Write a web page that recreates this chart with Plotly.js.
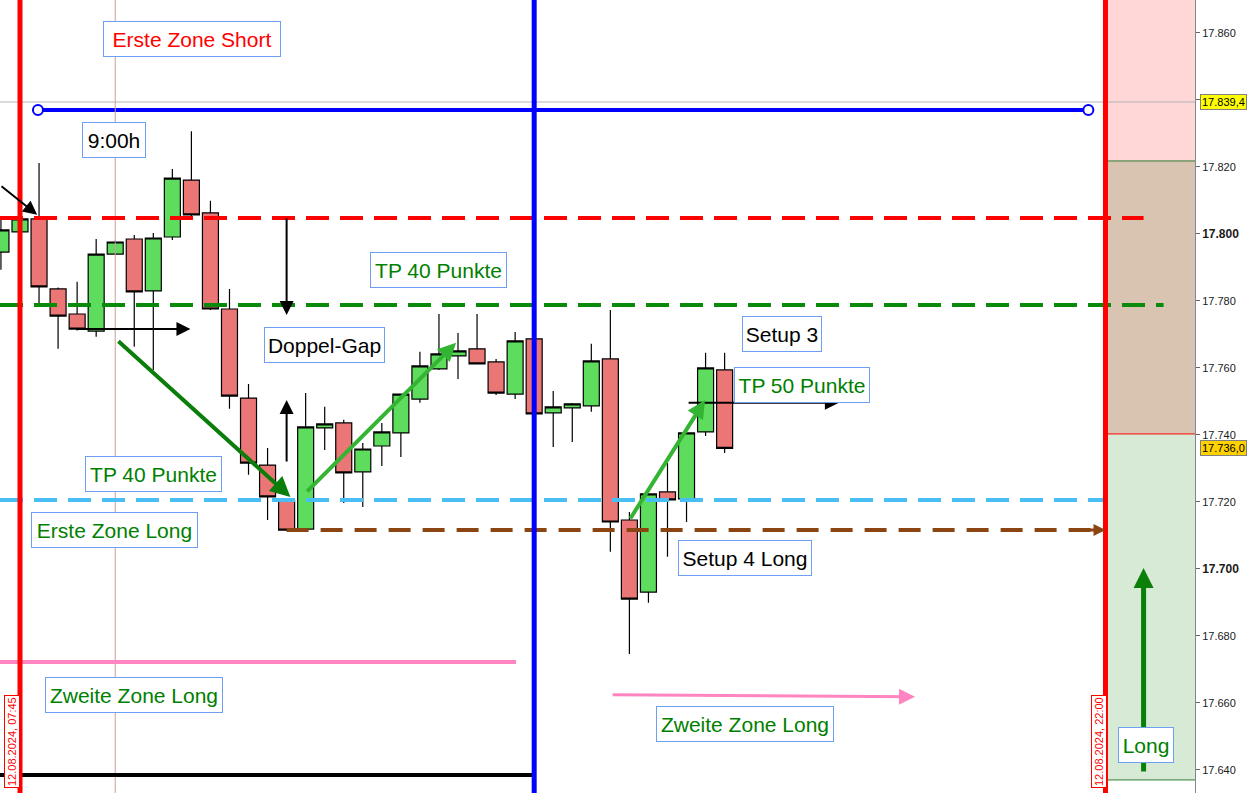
<!DOCTYPE html>
<html><head><meta charset="utf-8">
<script src="https://cdn.plot.ly/plotly-3.0.1.min.js"></script>
<style>html,body{margin:0;padding:0;background:#fff;overflow:hidden}#chart{width:1247px;height:793px}</style>
</head><body><div id="chart"></div>
<script>
// ---- data ----
const times = ['07:30','07:45','08:00','08:15','08:30','08:45','09:00','09:15','09:30','09:45',
  '10:00','10:15','10:30','10:45','11:00','11:15','11:30','11:45','12:00','12:15',
  '12:30','12:45','13:00','13:15','13:30','13:45','14:00','14:15','14:30','14:45',
  '15:00','15:15','15:30','15:45','16:00','16:15','16:30','16:45','17:00'];
const openV  = [17794.6,17800.6,17804.5,17783.6,17776.1,17771.0,17794.0,17798.5,17783.0,17799.1,
  17816.1,17806.3,17777.6,17751.0,17731.0,17720.3,17711.9,17742.1,17743.6,17729.0,
  17736.7,17740.6,17750.7,17759.7,17763.6,17765.7,17761.8,17752.2,17768.7,17746.6,
  17748.1,17748.7,17762.7,17714.6,17693.1,17723.0,17720.9,17740.9,17759.4];
const highV  = [17804.8,17805.0,17821.2,17784.0,17785.7,17798.5,17798.0,17799.7,17800.3,17819.4,
  17830.7,17809.9,17783.6,17755.2,17736.1,17720.6,17752.5,17748.4,17744.5,17737.6,
  17743.6,17752.4,17764.8,17776.1,17770.4,17776.1,17762.7,17770.7,17769.0,17753.1,
  17749.5,17767.2,17777.3,17717.0,17722.6,17731.6,17740.8,17764.5,17764.5];
const lowV   = [17789.3,17800.0,17778.8,17765.7,17771.2,17769.3,17793.8,17766.3,17759.4,17798.2,
  17805.4,17777.3,17747.8,17728.1,17714.6,17711.3,17711.6,17735.5,17719.7,17718.5,
  17730.7,17733.4,17749.6,17759.4,17756.7,17761.0,17751.9,17750.7,17746.0,17736.4,
  17737.9,17746.9,17705.1,17674.6,17689.9,17703.6,17714.0,17739.7,17734.6];
const closeV = [17801.2,17804.5,17784.2,17775.5,17771.6,17794.0,17797.6,17782.7,17798.8,17816.7,
  17805.7,17777.6,17751.6,17731.6,17721.5,17711.6,17742.4,17743.3,17728.7,17735.8,
  17740.9,17752.2,17760.6,17764.2,17765.1,17761.2,17752.5,17768.1,17746.3,17748.4,
  17749.3,17762.1,17714.0,17691.0,17722.4,17720.6,17740.6,17760.0,17736.0];

const yTicks = [17640,17660,17680,17700,17720,17740,17760,17780,17800,17820,17840,17860];
const boldTicks = [17700,17800];
const hiddenTicks = [17840];

// price levels
const levelShortLine = 17804.8;   // red dashed
const levelTP40Top  = 17778.8;    // green dashed
const levelLong1    = 17720.6;    // light blue dashed
const levelGap      = 17711.6;    // brown dashed
const levelLong2    = 17672.2;    // pink solid
const levelBottom   = 17638.5;    // black solid
const levelBlue     = 17837.0;    // blue line
const priceHigh     = 17839.4;    // crosshair tag
const priceLast     = 17736.0;    // last price tag
const zoneShort = [17821.8, 17875];
const zoneMid   = [17740.3, 17821.8];
const zoneLong  = [17637.0, 17740.3];

// ---- helpers ----
const BASE = Date.UTC(2024,7,12,7,45);
function X(i){ return new Date(BASE + i*15*60000).toISOString().replace('T',' ').slice(0,19); }
const PW = 1195, PH = 793;
function px(v){ return v/PW; }
function py(v){ return 1 - v/PH; }

const xs = times.map(t => '2024-08-12 ' + t + ':00');

const traces = [
  {type:'candlestick', x:xs, open:openV, high:highV, low:lowV, close:closeV,
   increasing:{line:{color:'#000',width:1.2}, fillcolor:'#5edc5e'},
   decreasing:{line:{color:'#000',width:1.2}, fillcolor:'#ea7676'},
   whiskerwidth:0, hoverinfo:'skip'},
  {type:'scatter', mode:'lines+markers', x:[X(0.944), X(56.1)], y:[levelBlue, levelBlue],
   line:{color:'#0000ff', width:4},
   marker:{symbol:'circle', size:10, color:'#fff', line:{color:'#0000ff', width:2}},
   hoverinfo:'skip'}
];

function hline(y, i0, i1, color, width, dash){
  return {type:'line', xref:'x', yref:'y', x0:X(i0), x1:X(i1), y0:y, y1:y,
          line:{color, width, dash: dash || 'solid'}};
}
function vline(i, color, width){
  return {type:'line', xref:'x', yref:'paper', x0:X(i), x1:X(i), y0:0, y1:1, line:{color, width}};
}
const XL = -1.05, XR = 61.7;
const shapes = [
  {type:'rect', xref:'x', yref:'y', x0:X(57), x1:X(XR), y0:zoneShort[0], y1:zoneShort[1], fillcolor:'#ffd7d7', line:{width:0}, layer:'below'},
  {type:'rect', xref:'x', yref:'y', x0:X(57), x1:X(XR), y0:zoneMid[0], y1:zoneMid[1], fillcolor:'#d9c4b2', line:{width:0}, layer:'below'},
  {type:'rect', xref:'x', yref:'y', x0:X(57), x1:X(XR), y0:zoneLong[0], y1:zoneLong[1], fillcolor:'#d6ead6', line:{width:0}, layer:'below'},
  hline(zoneShort[0], 57, XR, '#2e7d32', 1),
  hline(zoneMid[0], 57, XR, '#ff0000', 1),
  hline(zoneLong[0], 57, XR, '#2e7d32', 1),
  {type:'line', xref:'x', yref:'y', x0:X(57.1), x1:X(57.1), y0:zoneLong[0], y1:zoneLong[1], line:{color:'#2e7d32', width:1}},
  hline(priceHigh, XL, XR, '#b4b4b4', 1),
  vline(5, '#d09a9a', 1),
  hline(levelShortLine, XL, 59.0, '#ff0000', 4, '23px,11px'),
  hline(levelTP40Top, XL, 60.05, '#0a8a0a', 4, '23px,11px'),
  hline(levelLong1, XL, 57.0, '#48bef5', 4, '23px,11px'),
  hline(levelGap, 14.0, 56.4, '#8b4513', 4, '22px,12px'),
  hline(levelLong2, XL, 26.05, '#ff85c2', 4),
  hline(levelBottom, XL, 27.0, '#000000', 4),
  vline(0, '#ff0000', 5),
  vline(57, '#ff0000', 5),
  vline(27, '#0000ff', 5)
];

function arrow(i0, v0, i1, v1, color, width, size, head){
  return {xref:'x', yref:'y', axref:'x', ayref:'y', x:X(i1), y:v1, ax:X(i0), ay:v0,
          text:'', showarrow:true, arrowhead: head || 2, arrowsize:size, arrowwidth:width,
          arrowcolor:color, standoff:0, startstandoff:0};
}
function box(text, cx, cy, w, color){
  return {xref:'paper', yref:'paper', x:px(cx), y:py(cy), xanchor:'center', yanchor:'middle',
          text, showarrow:false, font:{size:21, color, family:'Liberation Sans, Arial, sans-serif'},
          bgcolor:'#ffffff', bordercolor:'#6f9ff5', borderwidth:1, borderpad:3,
          width:w-8, height:28};
}
function dateTag(text, cx){
  return {xref:'paper', yref:'paper', x:px(cx), y:py(742), xanchor:'center', yanchor:'middle',
          text, textangle:-90, showarrow:false, font:{size:11, color:'#ff0000'},
          bgcolor:'#ffffff', bordercolor:'#ff0000', borderwidth:1, borderpad:1};
}
function priceTag(text, y, bg){
  return {xref:'paper', yref:'y', x:1.004, y, xanchor:'left', yanchor:'middle',
          text, showarrow:false, font:{size:11, color:'#000'},
          bgcolor:bg, bordercolor:'#808080', borderwidth:1, borderpad:1};
}
const G = '#008000';
const annotations = [
  arrow(-1.05, 17814.6, 0.9, 17805.7, '#000', 2, 1.4),
  arrow(2.9, 17771.6, 8.95, 17771.6, '#000', 2, 1.4),
  arrow(14.0, 17805.1, 14.0, 17775.8, '#000', 2, 1.4),
  arrow(14.0, 17731.6, 14.0, 17750.4, '#000', 2, 1.4),
  arrow(35.03, 17749.6, 43.0, 17749.6, '#000', 2, 1.4),
  arrow(5.09, 17768.4, 14.2, 17721.5, '#0b7d0b', 4, 1.0),
  arrow(15.0, 17722.7, 22.9, 17767.5, '#33b533', 4, 0.9),
  arrow(32.0, 17714.6, 35.97, 17750.4, '#33b533', 4, 0.9),
  arrow(59.0, 17639.1, 59.0, 17700.3, '#0a800a', 5, 0.8),
  arrow(56.0, levelGap, 57.0, levelGap, '#8b4513', 3, 0.8),
  arrow(31.04, 17662.4, 47.0, 17661.8, '#ff85c2', 3, 1.07),
  box('Erste Zone Short', 192, 39.5, 178, '#ff0000'),
  box('9:00h', 114, 140, 64, '#000'),
  box('TP 40 Punkte', 438.5, 270, 137, G),
  box('Doppel-Gap', 324.5, 345.5, 121, '#000'),
  box('Setup 3', 782, 334, 80, '#000'),
  box('TP 50 Punkte', 802, 384.5, 136, G),
  box('TP 40 Punkte', 153.5, 474, 137, G),
  box('Erste Zone Long', 114.5, 530, 167, G),
  box('Setup 4 Long', 745, 557.5, 134, '#000'),
  box('Zweite Zone Long', 134, 694.5, 178, G),
  box('Zweite Zone Long', 745, 723.5, 178, G),
  box('Long', 1146, 744.5, 56, G),
  dateTag('12.08.2024, 07:45', 12),
  dateTag('12.08.2024, 22:00', 1099),
  priceTag('17.839,4', priceHigh, '#ffff00'),
  priceTag('17.736,0', priceLast, '#ffd200')
];

const tickText = yTicks.map(v => {
  if (hiddenTicks.includes(v)) return '';
  const s = (v/1000).toFixed(3);
  return boldTicks.includes(v) ? '<b><span style="font-size:12px">' + s + '</span></b>' : s;
});

const layout = {
  width:1247, height:793,
  margin:{l:0, r:52, t:0, b:0, pad:0},
  paper_bgcolor:'#ffffff', plot_bgcolor:'#ffffff',
  separators:',.',
  showlegend:false,
  boxgap:0.16, boxgroupgap:0,
  font:{family:'Liberation Sans, Arial, sans-serif', size:11, color:'#000'},
  xaxis:{type:'date', range:[X(XL), X(XR)], visible:false, rangeslider:{visible:false}, fixedrange:true},
  yaxis:{side:'right', range:[17633.1, 17869.85], tickmode:'array', tickvals:yTicks, ticktext:tickText,
         ticks:'outside', ticklen:4, tickcolor:'#666', showline:true, linecolor:'#7a8a99', linewidth:1,
         showgrid:false, zeroline:false, tickfont:{size:11, color:'#1a1a1a'}, fixedrange:true},
  shapes, annotations
};

Plotly.newPlot('chart', traces, layout, {displayModeBar:false, staticPlot:true});
</script>
</body></html>
